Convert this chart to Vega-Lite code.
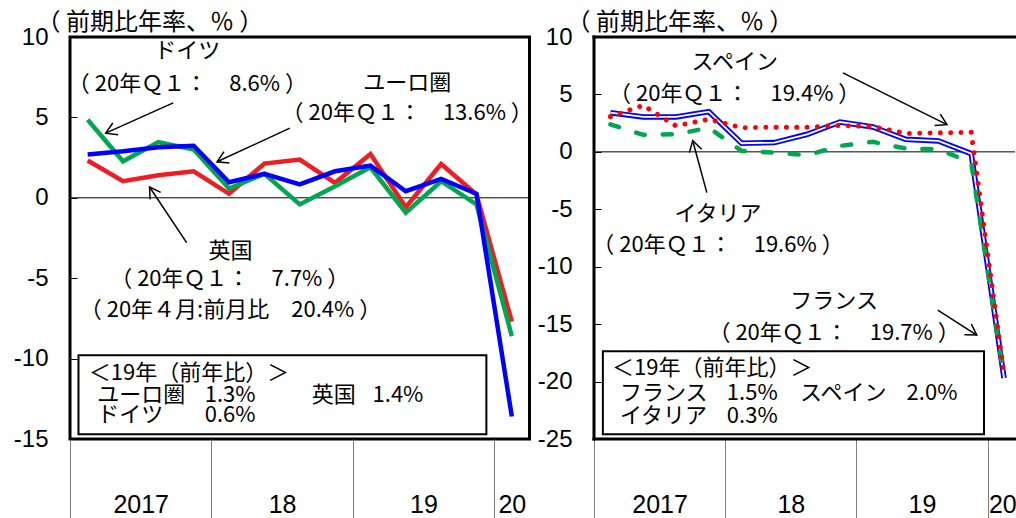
{
  "$schema": "https://vega.github.io/schema/vega-lite/v6.json",
  "background": "white",
  "padding": {"left": 11, "top": 8, "right": 0, "bottom": 0},
  "spacing": 2,
  "config": {"view": {"stroke": null}, "font": "Noto Sans CJK JP"},
  "datasets": {
    "seriesL": [
      {"c": "英国", "q": "2017Q1", "x": 0, "y": 2.32}, {"c": "英国", "q": "2017Q2", "x": 1, "y": 1.03}, {"c": "英国", "q": "2017Q3", "x": 2, "y": 1.4}, {"c": "英国", "q": "2017Q4", "x": 3, "y": 1.65},
      {"c": "英国", "q": "2018Q1", "x": 4, "y": 0.25}, {"c": "英国", "q": "2018Q2", "x": 5, "y": 2.13}, {"c": "英国", "q": "2018Q3", "x": 6, "y": 2.38}, {"c": "英国", "q": "2018Q4", "x": 7, "y": 0.93},
      {"c": "英国", "q": "2019Q1", "x": 8, "y": 2.72}, {"c": "英国", "q": "2019Q2", "x": 9, "y": -0.58}, {"c": "英国", "q": "2019Q3", "x": 10, "y": 2.1}, {"c": "英国", "q": "2019Q4", "x": 11, "y": 0.21},
      {"c": "英国", "q": "2020Q1", "x": 12, "y": -7.7},
      {"c": "ドイツ", "q": "2017Q1", "x": 0, "y": 4.85}, {"c": "ドイツ", "q": "2017Q2", "x": 1, "y": 2.27}, {"c": "ドイツ", "q": "2017Q3", "x": 2, "y": 3.47}, {"c": "ドイツ", "q": "2017Q4", "x": 3, "y": 3.0},
      {"c": "ドイツ", "q": "2018Q1", "x": 4, "y": 0.58}, {"c": "ドイツ", "q": "2018Q2", "x": 5, "y": 1.49}, {"c": "ドイツ", "q": "2018Q3", "x": 6, "y": -0.41}, {"c": "ドイツ", "q": "2018Q4", "x": 7, "y": 0.72},
      {"c": "ドイツ", "q": "2019Q1", "x": 8, "y": 1.9}, {"c": "ドイツ", "q": "2019Q2", "x": 9, "y": -0.93}, {"c": "ドイツ", "q": "2019Q3", "x": 10, "y": 1.03}, {"c": "ドイツ", "q": "2019Q4", "x": 11, "y": -0.41},
      {"c": "ドイツ", "q": "2020Q1", "x": 12, "y": -8.6},
      {"c": "ユーロ圏", "q": "2017Q1", "x": 0, "y": 2.69}, {"c": "ユーロ圏", "q": "2017Q2", "x": 1, "y": 2.89}, {"c": "ユーロ圏", "q": "2017Q3", "x": 2, "y": 3.14}, {"c": "ユーロ圏", "q": "2017Q4", "x": 3, "y": 3.24},
      {"c": "ユーロ圏", "q": "2018Q1", "x": 4, "y": 0.97}, {"c": "ユーロ圏", "q": "2018Q2", "x": 5, "y": 1.49}, {"c": "ユーロ圏", "q": "2018Q3", "x": 6, "y": 0.83}, {"c": "ユーロ圏", "q": "2018Q4", "x": 7, "y": 1.65},
      {"c": "ユーロ圏", "q": "2019Q1", "x": 8, "y": 2.0}, {"c": "ユーロ圏", "q": "2019Q2", "x": 9, "y": 0.41}, {"c": "ユーロ圏", "q": "2019Q3", "x": 10, "y": 1.18}, {"c": "ユーロ圏", "q": "2019Q4", "x": 11, "y": 0.25},
      {"c": "ユーロ圏", "q": "2020Q1", "x": 12, "y": -13.6}
    ],
    "seriesR": [
      {"c": "フランス", "q": "2017Q1", "x": 0, "y": 3.41}, {"c": "フランス", "q": "2017Q2", "x": 1, "y": 3.04}, {"c": "フランス", "q": "2017Q3", "x": 2, "y": 3.04}, {"c": "フランス", "q": "2017Q4", "x": 3, "y": 3.5},
      {"c": "フランス", "q": "2018Q1", "x": 4, "y": 0.75}, {"c": "フランス", "q": "2018Q2", "x": 5, "y": 0.81}, {"c": "フランス", "q": "2018Q3", "x": 6, "y": 1.53}, {"c": "フランス", "q": "2018Q4", "x": 7, "y": 2.6},
      {"c": "フランス", "q": "2019Q1", "x": 8, "y": 2.17}, {"c": "フランス", "q": "2019Q2", "x": 9, "y": 1.09}, {"c": "フランス", "q": "2019Q3", "x": 10, "y": 0.95}, {"c": "フランス", "q": "2019Q4", "x": 11, "y": -0.15},
      {"c": "フランス", "q": "2020Q1", "x": 12, "y": -19.7},
      {"c": "スペイン", "q": "2017Q1", "x": 0, "y": 3.07}, {"c": "スペイン", "q": "2017Q2", "x": 1, "y": 4.05}, {"c": "スペイン", "q": "2017Q3", "x": 2, "y": 2.26}, {"c": "スペイン", "q": "2017Q4", "x": 3, "y": 2.84},
      {"c": "スペイン", "q": "2018Q1", "x": 4, "y": 2.1}, {"c": "スペイン", "q": "2018Q2", "x": 5, "y": 2.15}, {"c": "スペイン", "q": "2018Q3", "x": 6, "y": 2.15}, {"c": "スペイン", "q": "2018Q4", "x": 7, "y": 2.3},
      {"c": "スペイン", "q": "2019Q1", "x": 8, "y": 2.2}, {"c": "スペイン", "q": "2019Q2", "x": 9, "y": 1.6}, {"c": "スペイン", "q": "2019Q3", "x": 10, "y": 1.65}, {"c": "スペイン", "q": "2019Q4", "x": 11, "y": 1.7},
      {"c": "スペイン", "q": "2020Q1", "x": 12, "y": -19.4},
      {"c": "イタリア", "q": "2017Q1", "x": 0, "y": 2.4}, {"c": "イタリア", "q": "2017Q2", "x": 1, "y": 1.48}, {"c": "イタリア", "q": "2017Q3", "x": 2, "y": 1.53}, {"c": "イタリア", "q": "2017Q4", "x": 3, "y": 2.1},
      {"c": "イタリア", "q": "2018Q1", "x": 4, "y": 0.08}, {"c": "イタリア", "q": "2018Q2", "x": 5, "y": -0.06}, {"c": "イタリア", "q": "2018Q3", "x": 6, "y": -0.29}, {"c": "イタリア", "q": "2018Q4", "x": 7, "y": 0.52},
      {"c": "イタリア", "q": "2019Q1", "x": 8, "y": 0.87}, {"c": "イタリア", "q": "2019Q2", "x": 9, "y": 0.29}, {"c": "イタリア", "q": "2019Q3", "x": 10, "y": 0.23}, {"c": "イタリア", "q": "2019Q4", "x": 11, "y": -0.93},
      {"c": "イタリア", "q": "2020Q1", "x": 12, "y": -19.6}
    ],
    "zeroL": [{"x": -0.5, "x2": 12.5, "y": 0}],
    "zeroR": [{"x": -0.5, "x2": 12.335, "y": 0}],
    "frameR": [
      {"x": -0.5, "y": -25, "x2": -0.5, "y2": 10},
      {"x": -0.5, "y": 10, "x2": 12.335, "y2": 10},
      {"x": -0.5, "y": -25, "x2": 12.335, "y2": -25}
    ],
    "boxL": [{"x": -0.26, "x2": 11.28, "y": -9.79, "y2": -14.7}],
    "boxR": [{"x": -0.23, "x2": 11.39, "y": -17.37, "y2": -24.58}],
    "arrowsL": [
      {"name": "ドイツ", "x": 0.51, "y": 4.02, "x2": 2.42, "y2": 5.9},
      {"name": "ユーロ圏", "x": 3.66, "y": 2.24, "x2": 5.72, "y2": 4.33},
      {"name": "英国", "x": 1.75, "y": 0.67, "x2": 2.8, "y2": -2.79}
    ],
    "arrowsR": [
      {"name": "スペイン", "x": 10.26, "y": 2.37, "x2": 7.09, "y2": 6.88},
      {"name": "イタリア", "x": 2.51, "y": 0.97, "x2": 2.94, "y2": -3.55},
      {"name": "フランス", "x": 11.17, "y": -15.95, "x2": 9.98, "y2": -13.78}
    ],
    "notesL": [
      {"x": 2.82, "y": 9.15, "label": "ドイツ"},
      {"x": 2.82, "y": 7.1, "label": "（ 20年Ｑ１：　8.6% ）"},
      {"x": 9.04, "y": 7.16, "label": "ユーロ圏"},
      {"x": 9.04, "y": 5.27, "label": "（ 20年Ｑ１：　13.6% ）"},
      {"x": 4.04, "y": -3.3, "label": "英国"},
      {"x": 4.02, "y": -5.03, "label": "（ 20年Ｑ１：　7.7% ）"},
      {"x": 4.04, "y": -7.0, "label": "（ 20年４月:前月比　20.4% ）"}
    ],
    "boxTextL": [
      {"x": 0.03, "y": -10.88, "label": "＜19年（前年比）＞"},
      {"x": 0.27, "y": -12.24, "label": "ユーロ圏"},
      {"x": 3.31, "y": -12.24, "label": "1.3%"},
      {"x": 6.34, "y": -12.24, "label": "英国"},
      {"x": 8.06, "y": -12.24, "label": "1.4%"},
      {"x": 0.27, "y": -13.5, "label": "ドイツ"},
      {"x": 3.31, "y": -13.5, "label": "0.6%"}
    ],
    "notesR": [
      {"x": 3.79, "y": 7.84, "label": "スペイン"},
      {"x": 3.79, "y": 5.06, "label": "（ 20年Ｑ１：　19.4% ）"},
      {"x": 3.28, "y": -5.44, "label": "イタリア"},
      {"x": 3.28, "y": -8.13, "label": "（ 20年Ｑ１：　19.6% ）"},
      {"x": 6.82, "y": -13.0, "label": "フランス"},
      {"x": 6.82, "y": -15.77, "label": "（ 20年Ｑ１：　19.7% ）"}
    ],
    "boxTextR": [
      {"x": 0.05, "y": -18.85, "label": "＜19年（前年比）＞"},
      {"x": 0.29, "y": -21.0, "label": "フランス"},
      {"x": 3.55, "y": -21.0, "label": "1.5%"},
      {"x": 5.78, "y": -21.0, "label": "スペイン"},
      {"x": 9.03, "y": -21.0, "label": "2.0%"},
      {"x": 0.29, "y": -23.0, "label": "イタリア"},
      {"x": 3.55, "y": -23.0, "label": "0.3%"}
    ]
  },
  "hconcat": [
    {
      "width": 459.5,
      "height": 402,
      "view": {"stroke": "black", "strokeWidth": 3},
      "encoding": {
        "x": {
          "field": "x", "type": "quantitative",
          "scale": {"domain": [-0.5, 12.5], "nice": false, "zero": false},
          "axis": {
            "values": [-0.5, 1.5, 3.5, 5.5, 7.5, 9.5, 11.5, 12],
            "labelExpr": "datum.value == 1.5 ? '2017' : datum.value == 5.5 ? '18' : datum.value == 9.5 ? '19' : datum.value == 12 ? '20' : ''",
            "title": null, "domain": false, "grid": false, "ticks": true,
            "tickSize": 81, "tickColor": "#808080", "tickWidth": 1,
            "tickOpacity": {"condition": {"test": "(datum.value + 0.5) % 4 == 0", "value": 1}, "value": 0},
            "labelPadding": -16, "labelBaseline": "middle",
            "labelFont": "Liberation Sans", "labelFontSize": 25, "labelColor": "black",
            "labelOverlap": false, "labelFlush": false, "labelBound": false
          }
        },
        "y": {
          "field": "y", "type": "quantitative",
          "scale": {"domain": [-15, 10], "nice": false, "zero": false},
          "axis": {
            "values": [-15, -10, -5, 0, 5, 10],
            "labelExpr": "datum.value + ''",
            "title": "（ 前期比年率、％ ）", "titleAngle": 0, "titleAlign": "left", "titleBaseline": "alphabetic",
            "titleX": -34, "titleY": -8, "titleFont": "Noto Sans CJK JP", "titleFontSize": 24,
            "titleFontWeight": "normal", "titleColor": "black",
            "domain": false, "grid": false, "tickSize": -7, "tickColor": "black", "tickWidth": 1,
            "labelPadding": 29, "labelFont": "Liberation Sans", "labelFontSize": 24, "labelColor": "black",
            "labelOverlap": false, "labelFlush": false, "labelBound": false
          }
        }
      },
      "layer": [
        {"data": {"name": "zeroL"}, "mark": {"type": "rule", "color": "black", "strokeWidth": 1}, "encoding": {"x2": {"field": "x2"}}},
        {"data": {"name": "seriesL"}, "transform": [{"filter": "datum.c == '英国'"}], "mark": {"type": "line", "color": "#EE1D23", "strokeWidth": 4.5}},
        {"data": {"name": "seriesL"}, "transform": [{"filter": "datum.c == 'ドイツ'"}], "mark": {"type": "line", "color": "#00A650", "strokeWidth": 4.5}},
        {"data": {"name": "seriesL"}, "transform": [{"filter": "datum.c == 'ユーロ圏'"}], "mark": {"type": "line", "color": "#0000FF", "strokeWidth": 4.5}},
        {"data": {"name": "boxL"}, "mark": {"type": "rect", "fill": "white", "stroke": "black", "strokeWidth": 2}, "encoding": {"x2": {"field": "x2"}, "y2": {"field": "y2"}}},
        {"data": {"name": "arrowsL"}, "mark": {"type": "rule", "color": "black", "strokeWidth": 1.5}, "encoding": {"x2": {"field": "x2"}, "y2": {"field": "y2"}}},
        {"data": {"name": "arrowsL"}, "transform": [{"filter": "datum.name == 'ドイツ'"}], "mark": {"type": "point", "shape": "M-1,-0.6L0,0L-1,0.6", "filled": false, "stroke": "black", "strokeWidth": 1.5, "size": 450, "opacity": 1, "angle": 155.9}},
        {"data": {"name": "arrowsL"}, "transform": [{"filter": "datum.name == 'ユーロ圏'"}], "mark": {"type": "point", "shape": "M-1,-0.6L0,0L-1,0.6", "filled": false, "stroke": "black", "strokeWidth": 1.5, "size": 450, "opacity": 1, "angle": 155.2}},
        {"data": {"name": "arrowsL"}, "transform": [{"filter": "datum.name == '英国'"}], "mark": {"type": "point", "shape": "M-1,-0.6L0,0L-1,0.6", "filled": false, "stroke": "black", "strokeWidth": 1.5, "size": 450, "opacity": 1, "angle": 236.3}},
        {"data": {"name": "notesL"}, "mark": {"type": "text", "font": "Noto Sans CJK JP", "fontSize": 22, "align": "center", "baseline": "middle", "color": "black"}, "encoding": {"text": {"field": "label"}}},
        {"data": {"name": "boxTextL"}, "mark": {"type": "text", "font": "Noto Sans CJK JP", "fontSize": 22, "align": "left", "baseline": "middle", "color": "black"}, "encoding": {"text": {"field": "label"}}}
      ]
    },
    {
      "width": 421,
      "height": 402,
      "encoding": {
        "x": {
          "field": "x", "type": "quantitative",
          "scale": {"domain": [-0.5, 12.335], "nice": false, "zero": false},
          "axis": {
            "values": [-0.5, 1.5, 3.5, 5.5, 7.5, 9.5, 11.5, 11.95],
            "labelExpr": "datum.value == 1.5 ? '2017' : datum.value == 5.5 ? '18' : datum.value == 9.5 ? '19' : datum.value == 11.95 ? '20' : ''",
            "title": null, "domain": false, "grid": false, "ticks": true,
            "tickSize": 81, "tickColor": "#808080", "tickWidth": 1,
            "tickOpacity": {"condition": {"test": "(datum.value + 0.5) % 4 == 0", "value": 1}, "value": 0},
            "labelPadding": -16, "labelBaseline": "middle",
            "labelFont": "Liberation Sans", "labelFontSize": 25, "labelColor": "black",
            "labelOverlap": false, "labelFlush": false, "labelBound": false
          }
        },
        "y": {
          "field": "y", "type": "quantitative",
          "scale": {"domain": [-25, 10], "nice": false, "zero": false},
          "axis": {
            "values": [-25, -20, -15, -10, -5, 0, 5, 10],
            "labelExpr": "datum.value + ''",
            "title": "（ 前期比年率、％ ）", "titleAngle": 0, "titleAlign": "left", "titleBaseline": "alphabetic",
            "titleX": -28, "titleY": -8, "titleFont": "Noto Sans CJK JP", "titleFontSize": 24,
            "titleFontWeight": "normal", "titleColor": "black",
            "domain": false, "grid": false, "tickSize": -7, "tickColor": "black", "tickWidth": 1,
            "labelPadding": 29, "labelFont": "Liberation Sans", "labelFontSize": 24, "labelColor": "black",
            "labelOverlap": false, "labelFlush": false, "labelBound": false
          }
        }
      },
      "layer": [
        {"data": {"name": "frameR"}, "mark": {"type": "rule", "color": "black", "strokeWidth": 3, "strokeCap": "square"}, "encoding": {"x2": {"field": "x2"}, "y2": {"field": "y2"}}},
        {"data": {"name": "zeroR"}, "mark": {"type": "rule", "color": "black", "strokeWidth": 1}, "encoding": {"x2": {"field": "x2"}}},
        {"data": {"name": "seriesR"}, "transform": [{"filter": "datum.c == 'フランス'"}], "mark": {"type": "line", "color": "#0000FF", "strokeWidth": 5.5}},
        {"data": {"name": "seriesR"}, "transform": [{"filter": "datum.c == 'フランス'"}], "mark": {"type": "line", "color": "white", "strokeWidth": 1.8}},
        {"data": {"name": "seriesR"}, "transform": [{"filter": "datum.c == 'イタリア'"}], "mark": {"type": "line", "color": "#00A650", "strokeWidth": 4.5, "strokeDash": [9, 18], "strokeCap": "round"}},
        {"data": {"name": "seriesR"}, "transform": [{"filter": "datum.c == 'スペイン'"}], "mark": {"type": "line", "color": "#FF0000", "strokeWidth": 5, "strokeDash": [0.01, 10.3], "strokeCap": "round"}},
        {"data": {"name": "boxR"}, "mark": {"type": "rect", "fill": "white", "stroke": "black", "strokeWidth": 2}, "encoding": {"x2": {"field": "x2"}, "y2": {"field": "y2"}}},
        {"data": {"name": "arrowsR"}, "mark": {"type": "rule", "color": "black", "strokeWidth": 1.5}, "encoding": {"x2": {"field": "x2"}, "y2": {"field": "y2"}}},
        {"data": {"name": "arrowsR"}, "transform": [{"filter": "datum.name == 'スペイン'"}], "mark": {"type": "point", "shape": "M-1,-0.6L0,0L-1,0.6", "filled": false, "stroke": "black", "strokeWidth": 1.5, "size": 450, "opacity": 1, "angle": 26.6}},
        {"data": {"name": "arrowsR"}, "transform": [{"filter": "datum.name == 'イタリア'"}], "mark": {"type": "point", "shape": "M-1,-0.6L0,0L-1,0.6", "filled": false, "stroke": "black", "strokeWidth": 1.5, "size": 450, "opacity": 1, "angle": 254.8}},
        {"data": {"name": "arrowsR"}, "transform": [{"filter": "datum.name == 'フランス'"}], "mark": {"type": "point", "shape": "M-1,-0.6L0,0L-1,0.6", "filled": false, "stroke": "black", "strokeWidth": 1.5, "size": 450, "opacity": 1, "angle": 32.7}},
        {"data": {"name": "notesR"}, "mark": {"type": "text", "font": "Noto Sans CJK JP", "fontSize": 22, "align": "center", "baseline": "middle", "color": "black"}, "encoding": {"text": {"field": "label"}}},
        {"data": {"name": "boxTextR"}, "mark": {"type": "text", "font": "Noto Sans CJK JP", "fontSize": 22, "align": "left", "baseline": "middle", "color": "black"}, "encoding": {"text": {"field": "label"}}}
      ]
    }
  ]
}
